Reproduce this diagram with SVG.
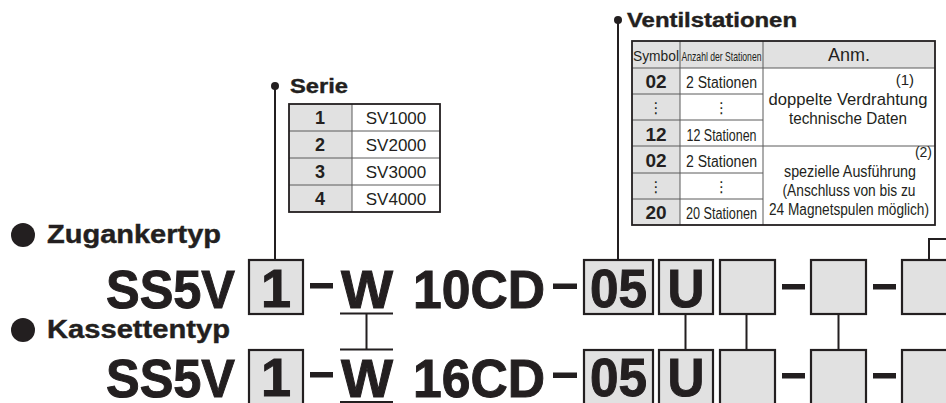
<svg xmlns="http://www.w3.org/2000/svg" width="946" height="403" viewBox="0 0 946 403">
<style>
.bg{fill:#ffffff}
.box{fill:#e1e1e1;stroke:#231f20;stroke-width:2.2}
.cellg{fill:#e1e1e1}
.cellw{fill:#ffffff}
.grid{stroke:#5a5a5a;stroke-width:1;fill:none}
.outer{fill:none;stroke:#231f20;stroke-width:1.8}
.conn{stroke:#231f20;stroke-width:2;fill:none}
.dash{fill:#231f20}
.big{font-family:"Liberation Sans",Arial,sans-serif;font-weight:bold;font-size:54px;fill:#231f20;stroke:#231f20;stroke-width:1}
.hd{font-family:"Liberation Sans",Arial,sans-serif;font-weight:bold;fill:#231f20;stroke:#231f20;stroke-width:0.4}
.t{font-family:"Liberation Sans",Arial,sans-serif;fill:#231f20}
.tb{font-family:"Liberation Sans",Arial,sans-serif;font-weight:bold;fill:#231f20}
.dots{font-family:"DejaVu Sans",sans-serif;fill:#231f20;font-size:15px}
</style>
<rect class="bg" x="0" y="0" width="946" height="403"/>

<g id="serie">
  <circle cx="275" cy="86" r="4" fill="#231f20"/>
  <text class="hd" x="290" y="93" font-size="21" textLength="58" lengthAdjust="spacingAndGlyphs">Serie</text>
  <rect class="cellg" x="289" y="104" width="63" height="108"/>
  <rect class="cellw" x="352" y="104" width="88" height="108"/>
  <path class="grid" d="M289 131H440M289 158H440M289 185H440M352 104V212"/>
  <rect class="outer" x="289" y="104" width="151" height="108"/>
  <g class="tb" font-size="18" text-anchor="middle">
    <text x="320" y="124">1</text>
    <text x="320" y="151">2</text>
    <text x="320" y="178">3</text>
    <text x="320" y="205">4</text>
  </g>
  <g class="t" font-size="17" text-anchor="middle">
    <text x="396" y="124">SV1000</text>
    <text x="396" y="151">SV2000</text>
    <text x="396" y="178">SV3000</text>
    <text x="396" y="205">SV4000</text>
  </g>
</g>

<g id="ventilstationen">
  <circle cx="618" cy="20" r="4" fill="#231f20"/>
  <text class="hd" x="627" y="27" font-size="20" textLength="170" lengthAdjust="spacingAndGlyphs">Ventilstationen</text>
  <rect class="cellg" x="632" y="41" width="48" height="184"/>
  <rect class="cellw" x="680" y="68" width="255" height="157"/>
  <rect class="cellg" x="680" y="41" width="255" height="27"/>
  <path class="grid" d="M632 68H935M632 94H763M632 120H763M632 146H935M632 173H763M632 199H763M680 41V225M763 41V225"/>
  <rect class="outer" x="632" y="41" width="303" height="184"/>
  <text class="t" x="656" y="61" font-size="15" text-anchor="middle" textLength="46" lengthAdjust="spacingAndGlyphs">Symbol</text>
  <text class="t" x="721.5" y="61" font-size="13" text-anchor="middle" textLength="80" lengthAdjust="spacingAndGlyphs">Anzahl der Stationen</text>
  <text class="t" x="849" y="61" font-size="18" text-anchor="middle">Anm.</text>
  <g class="tb" font-size="19" text-anchor="middle">
    <text x="656" y="88">02</text>
    <text x="656" y="141">12</text>
    <text x="656" y="167">02</text>
    <text x="656" y="219">20</text>
  </g>
  <g class="dots" text-anchor="middle">
    <text x="656" y="113">⋮</text>
    <text x="721.5" y="113">⋮</text>
    <text x="656" y="192">⋮</text>
    <text x="721.5" y="192">⋮</text>
  </g>
  <g class="t" font-size="16" text-anchor="middle">
    <text x="721.5" y="88" textLength="71" lengthAdjust="spacingAndGlyphs">2 Stationen</text>
    <text x="721.5" y="141" textLength="70" lengthAdjust="spacingAndGlyphs">12 Stationen</text>
    <text x="721.5" y="167" textLength="71" lengthAdjust="spacingAndGlyphs">2 Stationen</text>
    <text x="721.5" y="219" textLength="71" lengthAdjust="spacingAndGlyphs">20 Stationen</text>
  </g>
  <g class="t" font-size="17">
    <text x="914" y="85" text-anchor="end" font-size="15">(1)</text>
    <text x="848" y="105" text-anchor="middle" textLength="159" lengthAdjust="spacingAndGlyphs">doppelte Verdrahtung</text>
    <text x="848" y="124" text-anchor="middle" textLength="118" lengthAdjust="spacingAndGlyphs">technische Daten</text>
    <text x="850" y="177" text-anchor="middle" font-size="16" textLength="132" lengthAdjust="spacingAndGlyphs">spezielle Ausführung</text>
    <text x="932" y="157" text-anchor="end" font-size="14">(2)</text>
    <text x="849" y="196" text-anchor="middle" font-size="16" textLength="133" lengthAdjust="spacingAndGlyphs">(Anschluss von bis zu</text>
    <text x="849" y="215" text-anchor="middle" font-size="16" textLength="160" lengthAdjust="spacingAndGlyphs">24 Magnetspulen möglich)</text>
  </g>
</g>

<g id="zugankertyp">
  <circle cx="23" cy="235" r="12" fill="#231f20"/>
  <text class="hd" x="47" y="243" font-size="25" textLength="174" lengthAdjust="spacingAndGlyphs">Zugankertyp</text>
  <text class="big" x="106" y="308" textLength="129" lengthAdjust="spacingAndGlyphs">SS5V</text>
  <rect class="box" x="249" y="260" width="54" height="54"/>
  <text class="big" x="276" y="307" text-anchor="middle">1</text>
  <rect class="dash" x="310" y="283" width="23" height="5.5"/>
  <text class="big" x="341" y="308" textLength="52" lengthAdjust="spacingAndGlyphs">W</text>
  <text class="big" x="413" y="308" textLength="132" lengthAdjust="spacingAndGlyphs">10CD</text>
  <rect class="dash" x="553" y="283.5" width="24" height="5.5"/>
  <rect class="box" x="584" y="260" width="69" height="54"/>
  <text class="big" x="618.5" y="307" text-anchor="middle" textLength="57" lengthAdjust="spacingAndGlyphs">05</text>
  <rect class="box" x="659" y="260" width="54" height="54"/>
  <text class="big" x="686" y="307" text-anchor="middle" textLength="37" lengthAdjust="spacingAndGlyphs">U</text>
  <rect class="box" x="720" y="260" width="55" height="54"/>
  <rect class="dash" x="782" y="284" width="23" height="5.5"/>
  <rect class="box" x="811" y="260" width="55" height="54"/>
  <rect class="dash" x="873" y="284" width="23" height="5.5"/>
  <rect class="box" x="902" y="260" width="55" height="54"/>
</g>

<g id="kassettentyp">
  <circle cx="23" cy="330" r="12" fill="#231f20"/>
  <text class="hd" x="47" y="338" font-size="25" textLength="183" lengthAdjust="spacingAndGlyphs">Kassettentyp</text>
  <text class="big" x="106" y="397" textLength="129" lengthAdjust="spacingAndGlyphs">SS5V</text>
  <rect class="box" x="249" y="350" width="54" height="56"/>
  <text class="big" x="276" y="396" text-anchor="middle">1</text>
  <rect class="dash" x="310" y="372" width="23" height="5.5"/>
  <text class="big" x="341" y="397" textLength="52" lengthAdjust="spacingAndGlyphs">W</text>
  <text class="big" x="413" y="397" textLength="132" lengthAdjust="spacingAndGlyphs">16CD</text>
  <rect class="dash" x="553" y="372.5" width="24" height="5.5"/>
  <rect class="box" x="584" y="350" width="69" height="56"/>
  <text class="big" x="618.5" y="396" text-anchor="middle" textLength="57" lengthAdjust="spacingAndGlyphs">05</text>
  <rect class="box" x="659" y="350" width="54" height="56"/>
  <text class="big" x="686" y="396" text-anchor="middle" textLength="37" lengthAdjust="spacingAndGlyphs">U</text>
  <rect class="box" x="720" y="350" width="55" height="56"/>
  <rect class="dash" x="782" y="373" width="23" height="5.5"/>
  <rect class="box" x="811" y="350" width="55" height="56"/>
  <rect class="dash" x="873" y="373" width="23" height="5.5"/>
  <rect class="box" x="902" y="350" width="55" height="56"/>
</g>

<g id="connectors">
  <path class="conn" d="M275 86V260"/>
  <path class="conn" d="M618 20V260"/>
  <path class="conn" d="M929 260V239H946"/>
  <path class="conn" d="M340 313.5H393M340 349.5H393M366.5 313.5V349.5"/>
  <path class="conn" stroke="#888" d="M340 402H393"/>
  <path class="conn" d="M685.5 314V350M746.5 314V350M838.5 314V350"/>
</g>
</svg>
